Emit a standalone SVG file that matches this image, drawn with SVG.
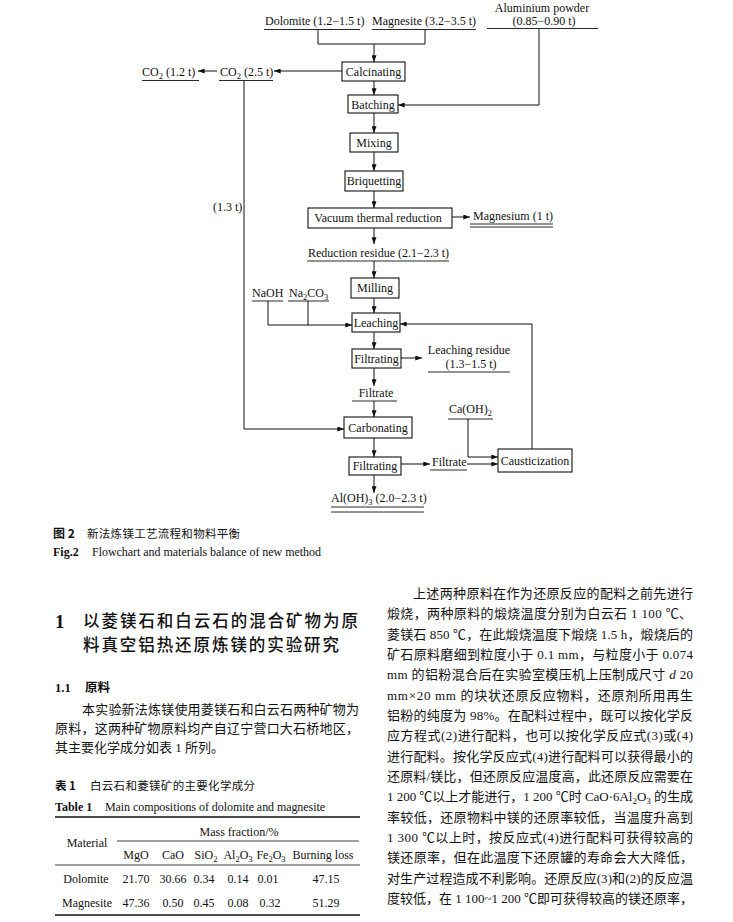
<svg xmlns="http://www.w3.org/2000/svg" width="733" height="922" viewBox="0 0 733 922">
<style>
text{font-family:"Liberation Serif","Noto Sans CJK SC",serif;fill:#111;}
.d{font-size:12px;}
.box{fill:#fff;stroke:#111;stroke-width:1.1;}
.ln{fill:none;stroke:#111;stroke-width:1;}
.ul{stroke:#111;stroke-width:0.9;}
.cj{font-family:"Noto Sans CJK SC",sans-serif;}
.body{font-size:13px;}
.tb{font-size:12px;}
.rule{stroke:#111;}
</style>
<defs>
<marker id="ah" viewBox="0 0 8 6" refX="8" refY="3" markerWidth="7" markerHeight="5" markerUnits="userSpaceOnUse" orient="auto">
<path d="M0,0 L8,3 L0,6 Z" fill="#111"/>
</marker>
</defs>
<rect width="733" height="922" fill="#fff"/>

<g id="connectors">
<path class="ln" d="M318,29.5 V44 H425 V29.5"/>
<path class="ln" d="M374,44 V62" marker-end="url(#ah)"/>
<path class="ln" d="M342,71 H274" marker-end="url(#ah)"/>
<path class="ln" d="M217,71 H198" marker-end="url(#ah)"/>
<path class="ln" d="M374,81 V95" marker-end="url(#ah)"/>
<path class="ln" d="M539,28.5 V105 H398" marker-end="url(#ah)"/>
<path class="ln" d="M374,113 V133" marker-end="url(#ah)"/>
<path class="ln" d="M374,152 V171" marker-end="url(#ah)"/>
<path class="ln" d="M374,191 V208" marker-end="url(#ah)"/>
<path class="ln" d="M452,217 H470" marker-end="url(#ah)"/>
<path class="ln" d="M374,228 V244" marker-end="url(#ah)"/>
<path class="ln" d="M374,261 V278" marker-end="url(#ah)"/>
<path class="ln" d="M374,298 V313" marker-end="url(#ah)"/>
<path class="ln" d="M268,301 V325 H352" marker-end="url(#ah)"/>
<path class="ln" d="M308,301 V325"/>
<path class="ln" d="M532,449 V324 H400" marker-end="url(#ah)"/>
<path class="ln" d="M374,332 V349" marker-end="url(#ah)"/>
<path class="ln" d="M401,358 H422" marker-end="url(#ah)"/>
<path class="ln" d="M374,368 V386" marker-end="url(#ah)"/>
<path class="ln" d="M374,401 V417" marker-end="url(#ah)"/>
<path class="ln" d="M244,80.5 V429 H344" marker-end="url(#ah)"/>
<path class="ln" d="M374,438 V457" marker-end="url(#ah)"/>
<path class="ln" d="M401,464 H430" marker-end="url(#ah)"/>
<path class="ln" d="M467,464 H498" marker-end="url(#ah)"/>
<path class="ln" d="M468,419 V457 H498" marker-end="url(#ah)"/>
<path class="ln" d="M374,475 V493" marker-end="url(#ah)"/>
</g>

<g id="dolomite"><text class="d" x="265" y="25">Dolomite (1.2−1.5 t)</text><line class="ul" x1="264" y1="29.5" x2="360" y2="29.5"/></g>
<g id="magnesite"><text class="d" x="372" y="25">Magnesite (3.2−3.5 t)</text><line class="ul" x1="372" y1="29.5" x2="476" y2="29.5"/></g>
<g id="aluminium"><text class="d" x="542" y="11.5" text-anchor="middle">Aluminium powder</text><text class="d" x="544" y="25" text-anchor="middle">(0.85−0.90 t)</text><line class="ul" x1="487" y1="28.5" x2="598" y2="28.5"/></g>
<g id="co2a"><text class="d" x="220" y="76">CO<tspan dy="3" font-size="8.5">2</tspan><tspan dy="-3"> (2.5 t)</tspan></text><line class="ul" x1="219" y1="80.5" x2="273" y2="80.5"/></g>
<g id="co2b"><text class="d" x="142" y="76">CO<tspan dy="3" font-size="8.5">2</tspan><tspan dy="-3"> (1.2 t)</tspan></text><line class="ul" x1="142" y1="80.5" x2="199" y2="80.5"/></g>
<g id="l13"><text class="d" x="213" y="211">(1.3 t)</text></g>

<g id="calcinating"><rect class="box" x="342" y="62" width="63" height="19"/><text class="d" x="373.5" y="76" text-anchor="middle">Calcinating</text></g>
<g id="batching"><rect class="box" x="348" y="95" width="50" height="18"/><text class="d" x="373" y="108.5" text-anchor="middle">Batching</text></g>
<g id="mixing"><rect class="box" x="350" y="133" width="48" height="19"/><text class="d" x="374" y="146.5" text-anchor="middle">Mixing</text></g>
<g id="briquetting"><rect class="box" x="345" y="171" width="58" height="20"/><text class="d" x="374" y="185" text-anchor="middle">Briquetting</text></g>
<g id="vacuum"><rect class="box" x="308" y="208" width="144" height="20"/><text class="d" x="378" y="222" text-anchor="middle">Vacuum thermal reduction</text></g>
<g id="magnesium"><text class="d" x="473" y="220">Magnesium (1 t)</text><line class="ul" x1="470" y1="224" x2="553" y2="224"/><line class="ul" x1="470" y1="227" x2="553" y2="227"/></g>
<g id="residue"><text class="d" x="308" y="257">Reduction residue (2.1−2.3 t)</text><line class="ul" x1="307" y1="261" x2="449" y2="261"/></g>
<g id="milling"><rect class="box" x="351" y="278" width="48" height="20"/><text class="d" x="375" y="292" text-anchor="middle">Milling</text></g>
<g id="naoh"><text class="d" x="252" y="297">NaOH</text><line class="ul" x1="252" y1="301" x2="283" y2="301"/></g>
<g id="na2co3"><text class="d" x="289" y="297">Na<tspan dy="3" font-size="8.5">2</tspan><tspan dy="-3">CO</tspan><tspan dy="3" font-size="8.5">3</tspan></text><line class="ul" x1="288" y1="301" x2="329" y2="301"/></g>
<g id="leaching"><rect class="box" x="352" y="313" width="48" height="19"/><text class="d" x="376" y="327" text-anchor="middle">Leaching</text></g>
<g id="filtrating1"><rect class="box" x="352" y="349" width="49" height="19"/><text class="d" x="376.5" y="363" text-anchor="middle">Filtrating</text></g>
<g id="leachres"><text class="d" x="469" y="353.5" text-anchor="middle">Leaching residue</text><text class="d" x="471" y="367.5" text-anchor="middle">(1.3−1.5 t)</text><line class="ul" x1="428" y1="372" x2="510" y2="372"/></g>
<g id="filtrate1"><text class="d" x="376" y="397" text-anchor="middle">Filtrate</text><line class="ul" x1="352" y1="401" x2="397" y2="401"/></g>
<g id="carbonating"><rect class="box" x="344" y="417" width="68" height="21"/><text class="d" x="378" y="432" text-anchor="middle">Carbonating</text></g>
<g id="filtrating2"><rect class="box" x="349" y="457" width="52" height="18"/><text class="d" x="375" y="470" text-anchor="middle">Filtrating</text></g>
<g id="filtrate2"><text class="d" x="432" y="466">Filtrate</text><line class="ul" x1="430" y1="470" x2="467" y2="470"/></g>
<g id="caoh2"><text class="d" x="449" y="413">Ca(OH)<tspan dy="3" font-size="8.5">2</tspan></text><line class="ul" x1="448" y1="419" x2="493" y2="419"/></g>
<g id="causticization"><rect class="box" x="498" y="449" width="74" height="23"/><text class="d" x="535" y="465" text-anchor="middle">Causticization</text></g>
<g id="aloh3"><text class="d" x="331" y="502">Al(OH)<tspan dy="3" font-size="8.5">3</tspan><tspan dy="-3"> (2.0−2.3 t)</tspan></text><line class="ul" x1="331" y1="507" x2="424" y2="507"/><line class="ul" x1="331" y1="512" x2="424" y2="512"/></g>

<g id="caption">
<text class="cj" x="53" y="538" font-size="12" font-weight="bold">图 2</text>
<text class="cj" x="87" y="538" font-size="11.5" textLength="153" lengthAdjust="spacing">新法炼镁工艺流程和物料平衡</text>
<text x="53" y="556" font-size="12" font-weight="bold">Fig.2</text>
<text x="92" y="556" font-size="12" textLength="229" lengthAdjust="spacing">Flowchart and materials balance of new method</text>
</g>

<g id="section">
<text x="55" y="628" font-size="19" font-weight="bold">1</text>
<text class="cj" x="83" y="627" font-size="16.5" font-weight="500" textLength="275" lengthAdjust="spacing">以菱镁石和白云石的混合矿物为原</text>
<text class="cj" x="83" y="651" font-size="16.5" font-weight="500" textLength="256" lengthAdjust="spacing">料真空铝热还原炼镁的实验研究</text>
<text x="55" y="692" font-size="12.5" font-weight="bold">1.1</text>
<text class="cj" x="85" y="692" font-size="12.5" font-weight="bold">原料</text>
<text class="body" x="82" y="714" textLength="277" lengthAdjust="spacing">本实验新法炼镁使用菱镁石和白云石两种矿物为</text>
<text class="body" x="55" y="733" textLength="304" lengthAdjust="spacing">原料，这两种矿物原料均产自辽宁营口大石桥地区，</text>
<text class="body" x="55" y="752">其主要化学成分如表 1 所列。</text>
</g>

<g id="table">
<text class="cj" x="55" y="790" font-size="11.5" font-weight="bold">表 1</text>
<text class="cj" x="90" y="790" font-size="11.5" textLength="165" lengthAdjust="spacing">白云石和菱镁矿的主要化学成分</text>
<text x="55" y="811" font-size="12" font-weight="bold">Table 1</text>
<text x="105" y="811" font-size="12" textLength="220" lengthAdjust="spacing">Main compositions of dolomite and magnesite</text>
<line class="rule" x1="55" y1="817" x2="360" y2="817" stroke-width="1.5"/>
<line class="rule" x1="117" y1="841" x2="359" y2="841" stroke-width="0.8"/>
<line class="rule" x1="55" y1="865" x2="360" y2="865" stroke-width="0.8"/>
<line class="rule" x1="55" y1="915" x2="360" y2="915" stroke-width="1.5"/>
<g class="tb" text-anchor="middle">
<text x="239" y="836">Mass fraction/%</text>
<text x="87" y="847">Material</text>
<text x="136" y="859">MgO</text>
<text x="173" y="859">CaO</text>
<text x="206" y="859">SiO<tspan dy="3" font-size="8.5">2</tspan></text>
<text x="238" y="859">Al<tspan dy="3" font-size="8.5">2</tspan><tspan dy="-3">O</tspan><tspan dy="3" font-size="8.5">3</tspan></text>
<text x="271" y="859">Fe<tspan dy="3" font-size="8.5">2</tspan><tspan dy="-3">O</tspan><tspan dy="3" font-size="8.5">3</tspan></text>
<text x="323" y="859">Burning loss</text>
<text x="86" y="883">Dolomite</text>
<text x="136" y="883">21.70</text>
<text x="173" y="883">30.66</text>
<text x="204" y="883">0.34</text>
<text x="238" y="883">0.14</text>
<text x="268" y="883">0.01</text>
<text x="326" y="883">47.15</text>
<text x="87" y="907">Magnesite</text>
<text x="136" y="907">47.36</text>
<text x="173" y="907">0.50</text>
<text x="204" y="907">0.45</text>
<text x="238" y="907">0.08</text>
<text x="270" y="907">0.32</text>
<text x="326" y="907">51.29</text>
</g>
</g>

<g id="rightcol" class="body">
<text x="413" y="598" textLength="280" lengthAdjust="spacing">上述两种原料在作为还原反应的配料之前先进行</text>
<text x="387" y="618" textLength="305" lengthAdjust="spacing">煅烧，两种原料的煅烧温度分别为白云石 1 100 ℃、</text>
<text x="387" y="639" textLength="306" lengthAdjust="spacing">菱镁石 850 ℃，在此煅烧温度下煅烧 1.5 h，煅烧后的</text>
<text x="387" y="659" textLength="306" lengthAdjust="spacing">矿石原料磨细到粒度小于 0.1 mm，与粒度小于 0.074</text>
<text x="387" y="679" textLength="306" lengthAdjust="spacing">mm 的铝粉混合后在实验室模压机上压制成尺寸 <tspan font-style="italic">d</tspan> 20</text>
<text x="387" y="700" textLength="306" lengthAdjust="spacing">mm×20 mm 的块状还原反应物料，还原剂所用再生</text>
<text x="387" y="720" textLength="306" lengthAdjust="spacing">铝粉的纯度为 98%。在配料过程中，既可以按化学反</text>
<text x="387" y="740" textLength="306" lengthAdjust="spacing">应方程式(2)进行配料，也可以按化学反应式(3)或(4)</text>
<text x="387" y="761" textLength="306" lengthAdjust="spacing">进行配料。按化学反应式(4)进行配料可以获得最小的</text>
<text x="387" y="781" textLength="306" lengthAdjust="spacing">还原料/镁比，但还原反应温度高，此还原反应需要在</text>
<text x="387" y="801" textLength="306" lengthAdjust="spacing">1 200 ℃以上才能进行，1 200 ℃时 CaO·6Al<tspan dy="3" font-size="9">2</tspan><tspan dy="-3">O</tspan><tspan dy="3" font-size="9">3</tspan><tspan dy="-3"> 的生成</tspan></text>
<text x="387" y="822" textLength="306" lengthAdjust="spacing">率较低，还原物料中镁的还原率较低，当温度升高到</text>
<text x="387" y="842" textLength="306" lengthAdjust="spacing">1 300 ℃以上时，按反应式(4)进行配料可获得较高的</text>
<text x="387" y="862" textLength="306" lengthAdjust="spacing">镁还原率，但在此温度下还原罐的寿命会大大降低，</text>
<text x="387" y="883" textLength="306" lengthAdjust="spacing">对生产过程造成不利影响。还原反应(3)和(2)的反应温</text>
<text x="387" y="903" textLength="306" lengthAdjust="spacing">度较低，在 1 100~1 200 ℃即可获得较高的镁还原率，</text>
</g>
</svg>
